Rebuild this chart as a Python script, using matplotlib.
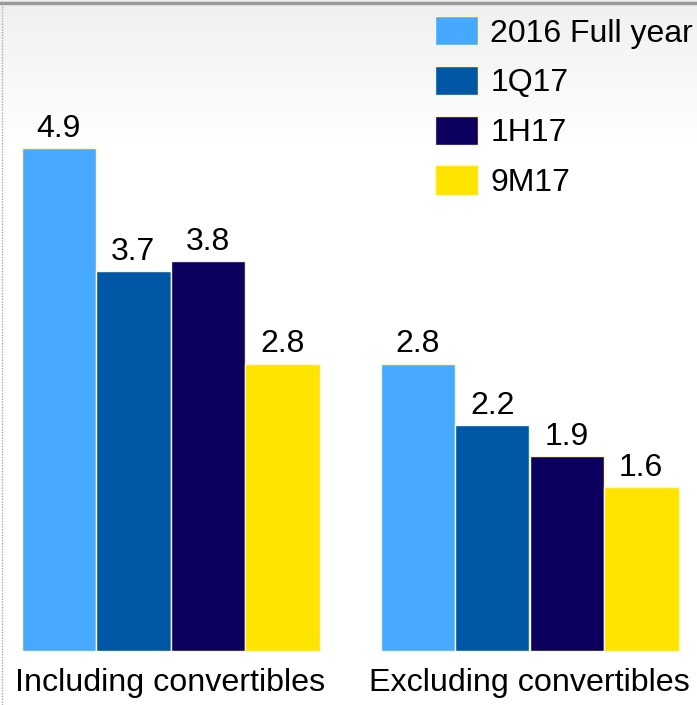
import numpy as np
import matplotlib.pyplot as plt

# ---------------------
# DATA
# ---------------------
groups = ['Including convertibles', 'Excluding convertibles']
series = ['2016 Full year', '1Q17', '1H17', '9M17']
values = {
    '2016 Full year': [4.9, 2.8],
    '1Q17': [3.7, 2.2],
    '1H17': [3.8, 1.9],
    '9M17': [2.8, 1.6],
}
colors = ['#46A9FF', '#0057A6', '#0B005E', '#FFE400']

plt.rcParams['font.family'] = ['Liberation Sans', 'DejaVu Sans']

W, H = 697, 705
fig = plt.figure(figsize=(W / 100, H / 100), dpi=100)

# soft grey fade at the top of the slide
bg = fig.add_axes([0, 0, 1, 1], zorder=-1)
grad = np.linspace(0, 1, 256).reshape(-1, 1)
grad = np.clip(grad / 0.2, 0, 1)
shade = 0.94 + 0.06 * grad
bg.imshow(np.dstack([shade, shade, shade]), aspect='auto', extent=[0, 1, 0, 1], origin='upper')
bg.axhline(1 - 2.5 / H, color='#999999', lw=2.5)
bg.axvline(1.5 / W, color='#aaaaaa', lw=1, ls=(0, (1, 1)))
bg.set_xlim(0, 1)
bg.set_ylim(0, 1)
bg.axis('off')

# axes placed so the bars sit where they do on the slide
px_per_group = 359.0
x0 = 170.5
base = 651.0
ax = fig.add_axes([0, (H - base) / H, 1, base / H])
ax.patch.set_alpha(0)
ax.set_xlim(-x0 / px_per_group, (W - x0) / px_per_group)
ax.set_ylim(0, base / 102.65)

x = np.arange(len(groups))
bw = 74.5 / px_per_group
for i, s in enumerate(series):
    pos = x + (i - 1.5) * bw
    bars = ax.bar(pos, values[s], width=bw, color=colors[i], edgecolor='#FFF6C8',
                  linewidth=1, label=s)
    ax.bar_label(bars, labels=[f'{v:.1f}' for v in values[s]], padding=3, fontsize=23)

ax.set_xticks(x)
ax.set_xticklabels(groups, fontsize=23.2)
ax.tick_params(axis='x', length=0, pad=12)
ax.set_yticks([])
for sp in ax.spines.values():
    sp.set_visible(False)

leg = ax.legend(loc='upper left', bbox_to_anchor=(435 / W, 1 - 16 / base),
                bbox_transform=ax.transAxes, frameon=False, fontsize=23,
                handlelength=1.35, handleheight=1.03, handletextpad=0.38,
                labelspacing=0.54, borderaxespad=0, borderpad=0)

fig.savefig('out.png', dpi=100)
